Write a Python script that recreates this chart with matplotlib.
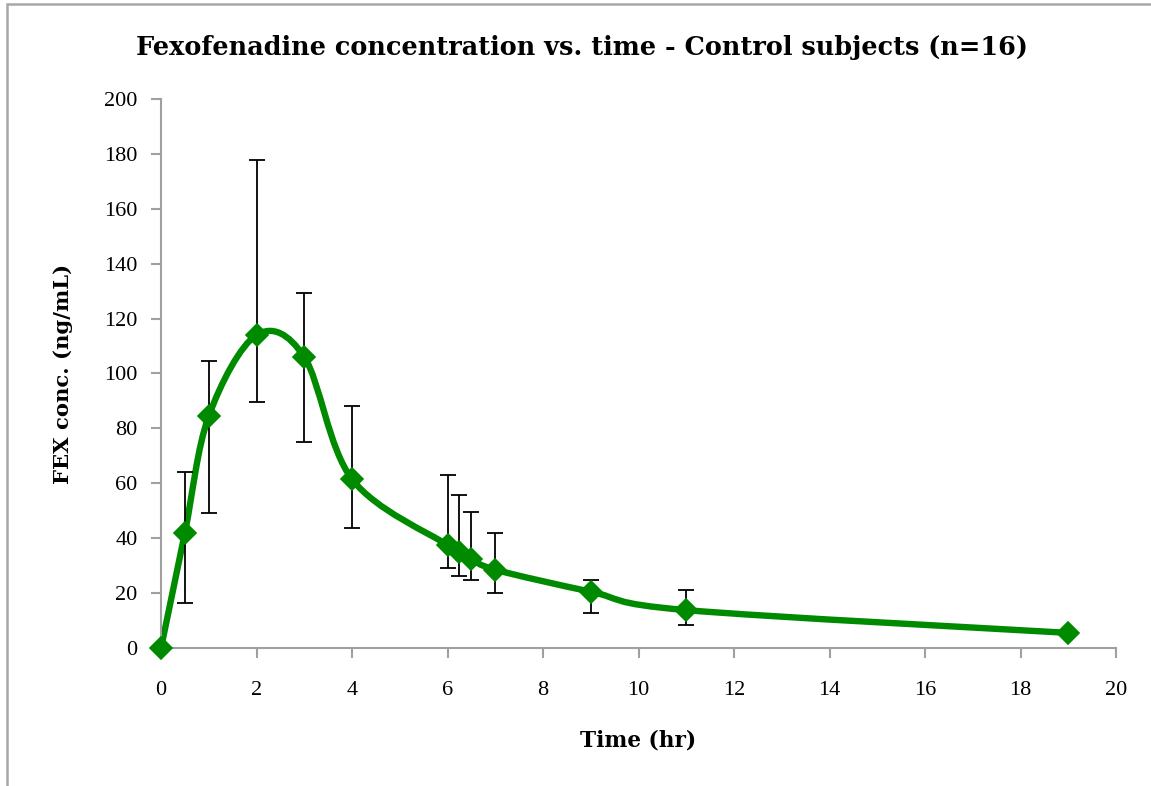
import matplotlib.pyplot as plt
from matplotlib.path import Path
from matplotlib.patches import PathPatch, Rectangle

# Время (ч) и концентрация фексофенадина (нг/мл), контрольная группа
time_hr = [0, 0.5, 1, 2, 3, 4, 6, 6.25, 6.5, 7, 9, 11, 19]
conc = [0, 42, 84.5, 114, 106, 61.5, 37.5, 35, 32.5, 28.5, 20.5, 13.8, 5.5]
err_low = [0, 25.7, 35.3, 24.5, 30.9, 17.7, 8.3, 8.9, 7.8, 8.5, 7.7, 5.3, 0]
err_high = [0, 22, 19.9, 63.8, 23.3, 26.7, 25.4, 20.7, 17.2, 13.4, 4.3, 7.3, 0]

green = '#008A00'
plt.rcParams['font.family'] = ['Liberation Serif', 'DejaVu Serif']
label_font = ['DejaVu Serif']

fig = plt.figure(figsize=(11.51, 7.86), dpi=100)
ax = fig.add_axes([0.1399, 0.1756, 0.8297, 0.6985])

# сглаженная линия как в Excel (кривые Безье через точки)
pts = list(zip(time_hr, conc))
verts = [pts[0]]
codes = [Path.MOVETO]
n = len(pts)
for i in range(n - 1):
    p0 = pts[i - 1] if i > 0 else pts[i]
    p1 = pts[i]
    p2 = pts[i + 1]
    p3 = pts[i + 2] if i + 2 < n else pts[i + 1]
    c1 = (p1[0] + (p2[0] - p0[0]) / 6, p1[1] + (p2[1] - p0[1]) / 6)
    c2 = (p2[0] - (p3[0] - p1[0]) / 6, p2[1] - (p3[1] - p1[1]) / 6)
    verts += [c1, c2, p2]
    codes += [Path.CURVE4] * 3
ax.add_patch(PathPatch(Path(verts, codes), facecolor='none', edgecolor=green,
                       lw=4.6, capstyle='round', joinstyle='round', zorder=2,
                       clip_on=False))

ax.errorbar(time_hr, conc, yerr=[err_low, err_high], fmt='none', ecolor='black',
            elinewidth=1.3, capsize=5.5, capthick=1.3, zorder=3)
ax.plot(time_hr, conc, linestyle='none', marker='D', ms=11.5, mew=1.2,
        color=green, zorder=4, clip_on=False)

ax.set_xlim(0, 20)
ax.set_ylim(0, 200)
ax.set_xticks(range(0, 21, 2))
ax.set_yticks(range(0, 201, 20))
ax.tick_params(axis='both', labelsize=16, length=7, width=1.5, color='#A0A0A0',
               direction='out')
ax.tick_params(axis='x', pad=17)
ax.tick_params(axis='y', pad=10)
for s in ['top', 'right']:
    ax.spines[s].set_visible(False)
for s in ['left', 'bottom']:
    ax.spines[s].set_color('#A0A0A0')
    ax.spines[s].set_linewidth(1.5)

fig.text(0.506, 0.939, 'Fexofenadine concentration vs. time - Control subjects (n=16)',
         fontsize=18.4, fontweight='bold', family=label_font, ha='center', va='center')
ax.set_xlabel('Time (hr)', fontsize=15.6, fontweight='bold', family=label_font,
              labelpad=21)
ax.set_ylabel('FEX conc. (ng/mL)', fontsize=15.2, fontweight='bold', family=label_font,
              labelpad=22)

# рамка области диаграммы
fig.patches.append(Rectangle((0.0058, -0.1), 1.2, 1.0945, transform=fig.transFigure,
                             fill=False, edgecolor='#A8A8A8', lw=1.8))

plt.savefig('out.png', dpi=100)
